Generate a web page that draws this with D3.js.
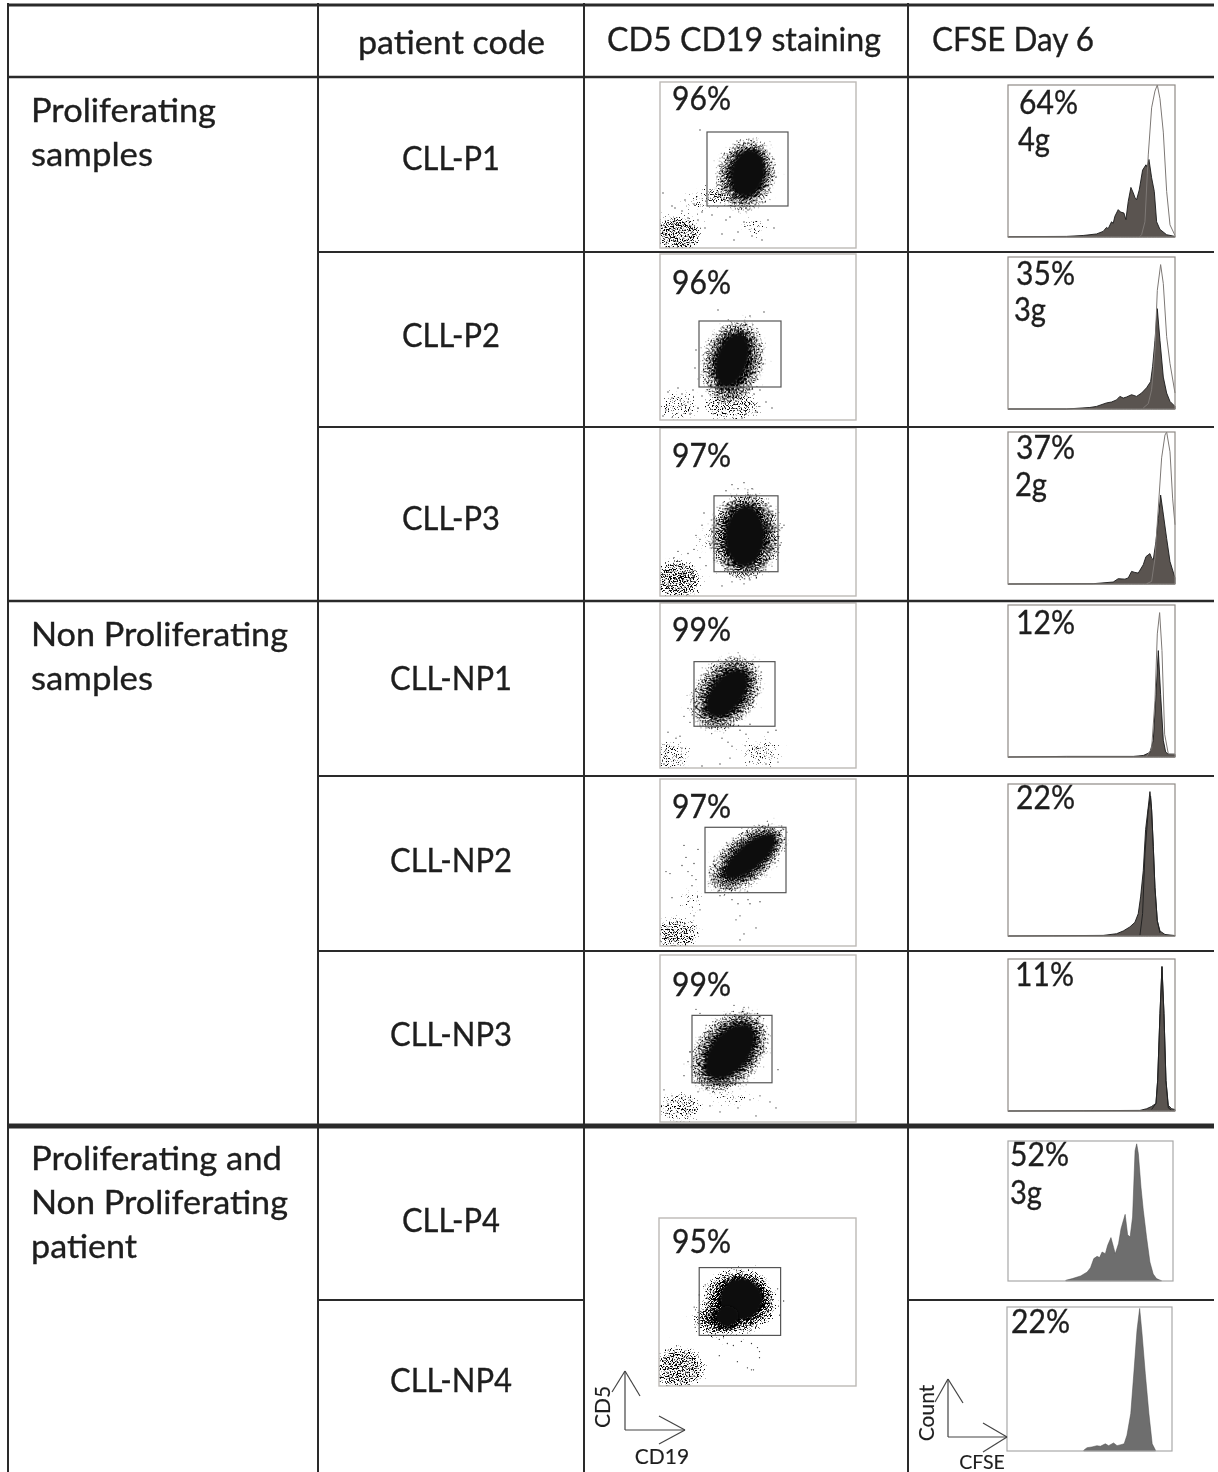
<!DOCTYPE html>
<html><head><meta charset="utf-8">
<script src="https://cdn.jsdelivr.net/npm/d3@7"></script>
<style>html,body{margin:0;padding:0;background:#fff}svg{display:block;filter:blur(.35px)}text{font-family:Lato,"Open Sans",sans-serif;fill:#1e1e1e;stroke:#1e1e1e;stroke-width:.35}</style>
</head><body><svg id="c" width="1218" height="1472"></svg>
<script>
// ---------- DATA ----------
const headerLabels = ["patient code","CD5 CD19 staining","CFSE Day 6"];
const groupLabels = [["Proliferating","samples"],["Non Proliferating","samples"],["Proliferating and","Non Proliferating","patient"]];
const patientCodes = ["CLL-P1","CLL-P2","CLL-P3","CLL-NP1","CLL-NP2","CLL-NP3","CLL-P4","CLL-NP4"];
const gatedPercent = ["96%","96%","97%","99%","97%","99%","95%"];
const cfseDividing = ["64%","35%","37%","12%","22%","11%","52%","22%"];
const cfseGenerations = ["4g","3g","2g",null,null,null,"3g",null];

// CD19 (x) / CD5 (y) channels: gate [x0,x1,y0,y1]
const gates = [[47,128,42,116],[39,121,33,99],[54,118,24,99],[34,115,42,107],[45,126,53,118],[32,112,39,106],[40,121,50,117]];
// populations [cx,cy,rx,ry,tilt]
const corePops = [
 [[88,75,16,23,12]],[[72,60,15,27,18]],[[85,59,19,29,3]],[[67,75,15,27,38]],
 [[90,89,12,31,50]],[[70,70,18,31,40]],[[82,86,21,20,0],[68,69,11,10,0]]];
const haloPops = [
 [[87,74,22,29,15]],[[73,59,22,34,15]],[[85,59,28,36,3]],[[67,75,22,34,38]],
 [[89,88,18,38,50]],[[70,70,25,38,40]],[[81,85,28,25,0],[64,67,18,13,0]]];
const fringePops = [
 [[86,73,30,37,15]],[[73,58,31,43,15]],[[85,59,36,44,3]],[[66,75,31,43,38]],
 [[87,87,25,47,50]],[[69,70,33,47,40]],[[80,84,37,32,0],[60,66,26,18,0]]];
// sparse clouds [cx,cy,rx,ry,density]
const debrisClouds = [
 [[18,14,24,20,.53],[40,46,16,14,.32],[94,22,14,10,.34],[58,52,15,11,.5]],
 [[20,14,20,14,.4],[72,14,30,15,.46]],
 [[18,16,24,20,.54],[20,18,10,8,.72],[45,55,9,12,.32]],
 [[12,12,18,16,.4],[100,16,20,14,.36]],
 [[17,12,22,17,.5],[32,45,14,14,.28]],
 [[20,14,22,16,.42],[72,24,22,7,.34]],
 [[20,18,26,22,.53]]];
// individual events [x,y]
const sparseEvents = [
 [[3,55],[12,42],[15,40],[22,37],[25,48],[28,30],[34,44],[38,28],[42,36],[30,22],[45,20],[52,33],[66,28],[70,31],[78,16],[84,26],[92,12],[102,8],[108,28],[114,20],[88,38],[74,8],[62,14],[40,118]],
 [[8,28],[12,22],[18,32],[22,26],[28,18],[33,30],[38,12],[42,24],[6,10],[3,4],[30,6],[94,26],[100,30],[106,18],[112,12],[90,36],[96,8],[86,6],[82,2],[36,70],[35,52],[104,108],[90,104],[58,110]],
 [[42,70],[36,60],[40,56],[34,46],[44,82],[32,24],[28,42],[46,30],[40,38],[18,44],[14,38],[72,110],[78,106],[84,112],[66,104],[92,106],[100,86],[124,70],[120,50],[90,16],[96,20],[84,12],[72,14],[62,10]],
 [[28,60],[24,52],[30,46],[20,32],[8,36],[16,30],[62,30],[68,26],[72,22],[80,38],[86,34],[96,20],[108,36],[116,38],[112,12],[118,6],[106,4],[70,10],[42,2],[60,4],[4,4],[90,44],[22,20]],
 [[24,100],[6,74],[10,72],[22,80],[28,74],[32,70],[34,82],[36,66],[26,88],[38,96],[32,60],[12,48],[40,36],[60,50],[72,46],[78,42],[88,46],[90,42],[76,26],[80,30],[100,44],[96,18],[84,12],[80,6],[34,30]],
 [[12,26],[8,18],[22,24],[4,32],[30,22],[26,12],[38,30],[50,16],[60,10],[78,14],[96,6],[110,20],[116,14],[100,26],[90,22],[28,60],[30,70],[24,46],[118,52],[36,112],[74,116],[84,114],[40,108]],
 [[35,78],[36,58],[40,90],[43,60],[46,100],[118,96],[120,70],[124,84],[60,46],[68,42],[74,40],[82,44],[92,42],[98,38],[100,34],[78,24],[60,30],[88,18],[92,16],[94,16],[100,28]]];

// CFSE histograms: [channel %, count %]
const histFilled = [
 [[0,.2],[35,.4],[45,1],[53,2],[57,3.7],[59,6.3],[60,5.5],[62,10],[63,9],[64,13.6],[66,18],[67.4,16.4],[69.4,15.8],[70.6,11.4],[72,23.4],[73.6,32.6],[75,29],[76,26],[77,24.5],[78.6,31],[80.6,44],[82.6,47.5],[83.4,46],[84.4,51],[86,39],[87.6,30],[89,10],[91,5],[95,1.5],[100,.4]],
 [[0,0],[35,0],[49,1],[53,1.7],[59,4],[62,4.6],[65,6],[67,8.3],[69,7.2],[71,7.9],[74,9.4],[77,8.3],[80,10.5],[83,14],[85.4,18],[86.6,28],[88,45],[89.4,66],[91,45],[93,21],[95,10.5],[97,5],[100,1.7]],
 [[0,0],[51,.2],[63,1.3],[66,3.5],[70,3.2],[72,4],[74,8.3],[76,7.6],[78,7.2],[81,12.7],[82.6,18],[85,20],[86,17],[87,16],[88.6,28],[90,43],[91.4,58.5],[93,46],[95,30],[97,14.8],[100,4]],
 [[0,0],[35,.4],[75,.4],[81,1],[85,3],[87,11],[88.6,41],[90,70],[91.4,41],[93,11],[94.4,3.3],[96,1.8],[100,1.8]],
 [[0,0],[27,.2],[57,.4],[65,1.5],[69,3.3],[73,6],[76,9],[78,14.7],[79.4,25.7],[81,43],[82.4,70],[84,85],[85,95],[86,83],[87,59],[88,32],[89.4,10],[91,3.3],[94,1],[100,.3]],
 [[0,0],[45,.2],[79,.4],[83,1.5],[86,3],[88.6,5],[89.6,20],[91,64],[92.2,95],[93.4,64],[94.6,20],[96,3.7],[98,1.5],[100,1]],
 [[35,.5],[39,1.7],[44,3.6],[48,6.4],[50,9.5],[52,16],[54,17.6],[55.5,16.7],[57,20.7],[59,19.5],[60.4,25.5],[62.4,31],[64,24],[65,19.5],[67,26.7],[68.5,37.4],[71,47.6],[72.5,33],[74,31.4],[75.5,45.7],[77,93],[78,98],[79,91],[80.6,67],[82,50.5],[84,31],[86,13.6],[88,5],[90,1.7],[93,.2]],
 [[46.5,.5],[48.5,2.3],[51.5,2.8],[54.5,3.7],[56.6,3.3],[59.6,5],[61.6,3.7],[64.6,5.6],[66.7,3.7],[69.7,4.6],[71,5],[72.7,11],[75,26],[77,56],[78.8,84],[80.4,99],[81.8,82],[83.8,54],[86,26],[88,5],[90,.5]]];
const histControl = [
 [[79,.4],[80,1.5],[82,10],[83.4,41],[84,54],[86,85],[88,96],[89.4,100],[91,91],[93,69],[95,30],[97,8],[100,1]],
 [[81,.7],[84,3.5],[86,12.7],[88,39],[89.4,78],[91.4,95],[93,82.5],[95,47.6],[97,30],[100,10.5]],
 [[83,.2],[86,1.7],[88,17],[90,50],[92,83],[94,98],[95,100],[97,87],[98.6,56],[100,39]],
 [[83,.4],[86,5.5],[88,37],[89.4,81],[90.8,95],[92.2,70],[93.8,15],[96,2],[100,1.8]],
 [[79,.4],[80.6,14.7],[82,54],[84,83],[85.4,92],[86,83],[87,59],[88,32],[89.4,10],[91,2]],
 [[86,1],[88.6,5],[89.6,20],[91,64],[92.2,95],[93.4,64],[94.6,20],[96,2],[98,.5]],
 null,null];

// ---------- LAYOUT ----------
const scatterBoxes = [[660,82,856,248],[660,254,856,420],[660,428,856,596],[660,603,856,768],[660,779,856,946],[660,955,856,1122],[659,1218,856,1386]];
const histBoxes = [[1008,85,1175,237],[1008,257,1175,409],[1008,432,1175,584],[1008,605,1175,757],[1008,784,1175,936],[1008,959,1175,1111],[1008,1141,1173,1281],[1007,1307,1172,1451]];
const codeBaselines = [170,347,530,690,872,1046,1232,1392];
const codeWidths = [98,98,98,122,122,122,98,122];
const scatterLabelY = [110,294,467,641,818,996,1253];
const histLabelPos = [[1019,114],[1016,285],[1016,459],[1016,634],[1016,809],[1015,986],[1010,1166],[1011,1333]];
const genLabelPos = [[1018,151],[1014,321],[1015,496],null,null,null,[1010,1204],null];
const hLines = [[8,1214,5,3],[8,1214,77,2.4],[318,1214,252,2],[318,1214,427,2],[8,1214,601,2.4],[318,1214,776,2],[318,1214,951,2],[8,1214,1126,5],[318,584,1300,2],[908,1214,1300,2]];
const vLines = [[8,3,1472],[318,3,1472],[584,3,1472],[908,3,1472]];
const FS = 33;

const svg = d3.select("#c");
const defs = svg.append("defs");
const stip = defs.append("filter").attr("id","stip").attr("x","-60%").attr("y","-60%").attr("width","220%").attr("height","220%").attr("color-interpolation-filters","sRGB");
stip.append("feGaussianBlur").attr("in","SourceAlpha").attr("stdDeviation",4.2).attr("result","b");
stip.append("feTurbulence").attr("type","fractalNoise").attr("baseFrequency",.75).attr("numOctaves",2).attr("seed",7).attr("result","t");
stip.append("feColorMatrix").attr("in","t").attr("type","matrix").attr("values","0 0 0 0 0  0 0 0 0 0  0 0 0 0 0  1.6 0 0 0 -.3").attr("result","n");
stip.append("feComposite").attr("in","b").attr("in2","n").attr("operator","arithmetic").attr("k1",0).attr("k2",5).attr("k3",5).attr("k4",-5);
const soft = defs.append("filter").attr("id","soft").attr("x","-30%").attr("y","-30%").attr("width","160%").attr("height","160%");
soft.append("feGaussianBlur").attr("stdDeviation",1.3);

function fitted(x,y,str,w,anchor,fs){
  return svg.append("text").attr("x",x).attr("y",y).attr("font-size",fs||FS).attr("text-anchor",anchor||"start")
    .attr("textLength",w).attr("lengthAdjust","spacingAndGlyphs").text(str);
}

// scatter panels
scatterBoxes.forEach((b,i)=>{
  const x = d3.scaleLinear().domain([0,196]).range([b[0],b[2]]);
  const y = d3.scaleLinear().domain([0,166]).range([b[3],b[1]]);
  const cid = "sc"+i;
  defs.append("clipPath").attr("id",cid).append("rect").attr("x",b[0]).attr("y",b[1]).attr("width",b[2]-b[0]).attr("height",b[3]-b[1]);
  const g = svg.append("g").attr("clip-path",`url(#${cid})`);
  const ell = (sel)=>sel.attr("transform",p=>`translate(${x(p[0])},${y(p[1])}) rotate(${p[4]})`)
     .attr("rx",p=>x(p[2])-x(0)).attr("ry",p=>y(0)-y(p[3]));
  g.selectAll(".d").data(debrisClouds[i]).join("ellipse")
    .attr("cx",p=>x(p[0])).attr("cy",p=>y(p[1])).attr("rx",p=>x(p[2])-x(0)).attr("ry",p=>y(0)-y(p[3]))
    .attr("fill","#000").attr("fill-opacity",p=>p[4]).attr("filter","url(#stip)");
  g.selectAll(".ev").data(sparseEvents[i]).join("circle")
    .attr("cx",p=>x(p[0])).attr("cy",p=>y(p[1])).attr("r",.65).attr("fill","#333");
  ell(g.selectAll(".f").data(fringePops[i]).join("ellipse"))
    .attr("fill","#000").attr("fill-opacity",.58).attr("filter","url(#stip)");
  ell(g.selectAll(".h").data(haloPops[i]).join("ellipse"))
    .attr("fill","#000").attr("fill-opacity",.76).attr("filter","url(#stip)");
  ell(g.selectAll(".c").data(corePops[i]).join("ellipse"))
    .attr("fill","#0c0c0c").attr("filter","url(#soft)");
  svg.append("rect").attr("x",b[0]).attr("y",b[1]).attr("width",b[2]-b[0]).attr("height",b[3]-b[1])
    .attr("fill","none").attr("stroke","#bdb9b6").attr("stroke-width",1.4);
  const q = gates[i];
  svg.append("rect").attr("x",x(q[0])).attr("y",y(q[3])).attr("width",x(q[1])-x(q[0])).attr("height",y(q[2])-y(q[3]))
    .attr("fill","none").attr("stroke","#555").attr("stroke-width",1.2);
  fitted(672,scatterLabelY[i],gatedPercent[i],59);
});

// histograms
histBoxes.forEach((b,i)=>{
  const x = d3.scaleLinear().domain([0,100]).range([b[0],b[2]]);
  const y = d3.scaleLinear().domain([0,100]).range([b[3],b[1]]);
  const area = d3.area().x(p=>x(p[0])).y0(y(0)).y1(p=>y(p[1]));
  const line = d3.line().x(p=>x(p[0])).y(p=>y(p[1]));
  const last = i>=6;
  svg.append("path").datum(histFilled[i]).attr("d",area)
    .attr("fill",last?"#6e6e6e":"#5a5450").attr("stroke",last?"#4a4a4a":"#191919").attr("stroke-width",last?.5:.9);
  if(histControl[i]) svg.append("path").datum(histControl[i]).attr("d",line)
    .attr("fill","none").attr("stroke",i==4||i==5?"#222":"#7d7875").attr("stroke-width",1);
  svg.append("rect").attr("x",b[0]).attr("y",b[1]).attr("width",b[2]-b[0]).attr("height",b[3]-b[1])
    .attr("fill","none").attr("stroke",last?"#a8a8a8":"#8f8a86").attr("stroke-width",1.2);
  fitted(histLabelPos[i][0],histLabelPos[i][1],cfseDividing[i],59);
  if(cfseGenerations[i]) fitted(genLabelPos[i][0],genLabelPos[i][1],cfseGenerations[i],32);
});

// table rules
svg.selectAll(".hl").data(hLines).join("line").attr("x1",d=>d[0]).attr("x2",d=>d[1]).attr("y1",d=>d[2]).attr("y2",d=>d[2]).attr("stroke","#2a2a2a").attr("stroke-width",d=>d[3]);
svg.selectAll(".vl").data(vLines).join("line").attr("x1",d=>d[0]).attr("x2",d=>d[0]).attr("y1",d=>d[1]).attr("y2",d=>d[2]).attr("stroke","#2a2a2a").attr("stroke-width",2);

// table text
[[358,54,187],[607,51,274],[932,51,162]].forEach((p,i)=>fitted(p[0],p[1],headerLabels[i],p[2]));
[[[122,185],[166,122]],[[646,257],[690,122]],[[1170,251],[1214,257],[1258,106]]].forEach((rows,i)=>rows.forEach((r,j)=>
  fitted(31,r[0],groupLabels[i][j],r[1])));
patientCodes.forEach((c,i)=>fitted(451-codeWidths[i]/2,codeBaselines[i],c,codeWidths[i]));

// axis key arrows
const keyLines = [[625,1430,625,1371],[625,1371,612,1392],[625,1371,640,1396],[625,1430,685,1430],[685,1430,659,1416],[685,1430,659,1444],
 [948,1437,948,1379],[948,1379,935,1402],[948,1379,963,1403],[948,1437,1007,1437],[1007,1437,983,1423],[1007,1437,983,1452]];
svg.selectAll(".k").data(keyLines).join("line").attr("x1",d=>d[0]).attr("y1",d=>d[1]).attr("x2",d=>d[2]).attr("y2",d=>d[3]).attr("stroke","#444").attr("stroke-width",1.2);
[["CD5",605,1407,-90],["CD19",662,1464,0],["Count",929,1413,-90],["CFSE",982,1469,0]].forEach(t=>
  svg.append("text").attr("text-anchor","middle").attr("font-size",t[0]=="CFSE"?19.5:21).attr("dominant-baseline",t[3]?"middle":"auto").style("stroke-width",.15)
   .attr("transform",`translate(${t[1]},${t[2]}) rotate(${t[3]})`).text(t[0]));
</script></body></html>
